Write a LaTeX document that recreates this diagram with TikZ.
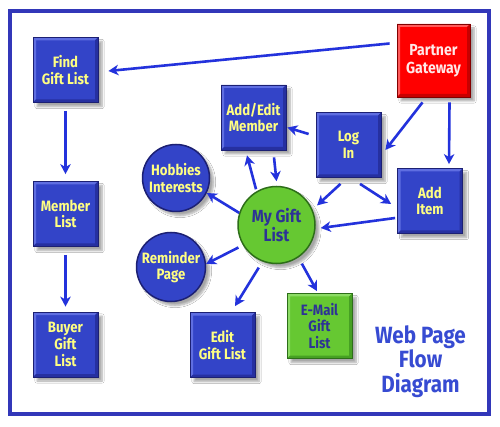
\documentclass[tikz,border=0pt]{standalone}
\usepackage{fontspec}
\setmainfont{Fira Sans}[FakeStretch=0.88]
\usetikzlibrary{shadows.blur,arrows.meta}
\definecolor{boxblue}{RGB}{51,68,200}
\definecolor{boxdark}{RGB}{28,32,115}
\definecolor{boxlight}{RGB}{95,110,225}
\definecolor{boxshade}{RGB}{38,48,160}
\definecolor{txtyellow}{RGB}{255,255,130}
\definecolor{arrblue}{RGB}{35,50,220}
\definecolor{gfill}{RGB}{102,200,50}
\definecolor{glight}{RGB}{140,220,100}
\definecolor{gshade}{RGB}{70,160,35}
\definecolor{gdark}{RGB}{45,110,25}
\definecolor{pgred}{RGB}{255,0,0}
\definecolor{rlight}{RGB}{255,90,90}
\definecolor{rshade}{RGB}{200,0,0}
\definecolor{rdark}{RGB}{130,0,0}
\definecolor{pgtext}{RGB}{255,232,232}
\definecolor{navytext}{RGB}{45,50,150}
\definecolor{framec}{RGB}{50,55,185}
\definecolor{titleblue}{RGB}{55,75,210}
\tikzset{
  shad/.style={blur shadow={shadow xshift=4pt,shadow yshift=-4pt,shadow blur steps=6,shadow opacity=35}},
  lbl/.style={font=\fontsize{15}{16.7}\selectfont\bfseries, align=center, inner sep=0pt},
  bevel/.style 2 args={path picture={
    \fill[#1] (path picture bounding box.south west) -- (path picture bounding box.north west) -- (path picture bounding box.north east)
      -- ([xshift=-3pt,yshift=-3pt]path picture bounding box.north east) -- ([xshift=3pt,yshift=-3pt]path picture bounding box.north west)
      -- ([xshift=3pt,yshift=3pt]path picture bounding box.south west) -- cycle;
    \fill[#2] (path picture bounding box.south west) -- (path picture bounding box.south east) -- (path picture bounding box.north east)
      -- ([xshift=-3pt,yshift=-3pt]path picture bounding box.north east) -- ([xshift=-3pt,yshift=3pt]path picture bounding box.south east)
      -- ([xshift=3pt,yshift=3pt]path picture bounding box.south west) -- cycle;
  }},
  bluebox/.style={lbl, shad, fill=boxblue, draw=boxdark, line width=0.8pt, text=txtyellow,
    minimum width=65pt, minimum height=65pt, bevel={boxlight}{boxshade}},
  greenbox/.style={lbl, shad, fill=gfill, draw=gdark, line width=0.8pt, text=navytext,
    minimum width=65pt, minimum height=65pt, bevel={glight}{gshade}},
  redbox/.style={lbl, shad, fill=pgred, draw=rdark, line width=0.8pt, text=pgtext,
    minimum width=73pt, minimum height=73pt, bevel={rlight}{rshade},
    font=\fontsize{16}{17.5}\selectfont\bfseries},
  bluecirc/.style={lbl, shad, circle, fill=boxblue, draw=boxdark, line width=1.5pt, text=txtyellow},
  greencirc/.style={lbl, shad, circle, fill=gfill, draw=gdark, line width=1.5pt, text=navytext,
    font=\fontsize{17.5}{19.5}\selectfont\bfseries},
  arr/.style={draw=arrblue, line width=2.6pt, -{Stealth[length=10pt,width=10.5pt,inset=3pt]}},
  titlefont/.style={font=\fontsize{23.5}{24.5}\selectfont\bfseries, align=center, inner sep=0pt}
}
\begin{document}
\begin{tikzpicture}[x=1pt,y=-1pt]
\useasboundingbox (0,0) rectangle (500,427);
\fill[white] (0,0) rectangle (500,427);
% frame
\draw[framec, line width=4pt] (10,11.5) rectangle (489,414);

% nodes
\node[bluebox] (FGL) at (65.5,70) {Find\\Gift List};
\node[bluebox] (ML) at (65.5,214) {Member\\List};
\node[bluebox] (BGL) at (65.5,344.5) {Buyer\\Gift\\List};
\node[redbox] (PG) at (433.5,60.5) {Partner\\Gateway};
\node[bluebox] (AEM) at (253.5,117.5) {Add/Edit\\Member};
\node[bluebox] (LI) at (348.5,145) {Log\\In};
\node[bluebox] (AI) at (430,201) {Add\\Item};
\node[greencirc, minimum size=77pt] (MGL) at (276.5,225) {My Gift\\List};
\node[bluecirc, minimum size=67pt] (HI) at (176,178) {Hobbies\\Interests};
\node[bluecirc, minimum size=69pt] (RP) at (171,267) {Reminder\\Page};
\node[bluebox] (EGL) at (222.5,345) {Edit\\Gift List};
\node[greenbox] (EM) at (319.5,326) {E-Mail\\Gift\\List};

% title
\node[titlefont, text=titleblue] (title) at (420.5,361.5) {Web Page\\Flow\\Diagram};

% connectors
\draw[arr] ([xshift=-7pt,yshift=17pt]PG.west) -- ([xshift=10pt,yshift=-1pt]FGL.east);
\draw[arr] ([yshift=-8pt]FGL.south) -- ([yshift=7pt]ML.north);
\draw[arr] ([yshift=-8pt]ML.south) -- ([yshift=5pt]BGL.north);
\draw[arr] ([xshift=-11pt,yshift=-5pt]PG.south) -- ([xshift=4pt,yshift=-5pt]LI.east);
\draw[arr] ([xshift=16pt,yshift=-5pt]PG.south) -- ([xshift=19pt,yshift=4pt]AI.north);
\draw[arr] ([xshift=-7pt,yshift=11pt]LI.west) -- ([xshift=1pt,yshift=-10pt]AEM.east);
\draw[arr] ([xshift=-8pt,yshift=-6pt]LI.south) -- ([xshift=5pt,yshift=3pt]MGL.25);
\draw[arr] ([xshift=11.5pt,yshift=-6pt]LI.south) -- ([xshift=-6pt,yshift=-3pt]AI.west);
\draw[arr] ([xshift=-2pt,yshift=-17pt]AI.west) -- ([xshift=5pt,yshift=-3pt]MGL.east);
\draw[arr] ([xshift=-20.5pt,yshift=-3.5pt]MGL.north) -- ([xshift=-6.5pt,yshift=-5pt]AEM.south);
\draw[arr] ([xshift=20.5pt,yshift=-7pt]AEM.south) -- ([yshift=4.5pt]MGL.north);
\draw[arr] (MGL.162) -- (HI.-26);
\draw[arr, shorten <=5pt] (MGL.211) -- (RP.5);
\draw[arr, shorten <=7pt] (MGL.249) -- ([xshift=12.5pt,yshift=6pt]EGL.north);
\draw[arr, shorten <=7pt] (MGL.-56) -- ([xshift=-2.5pt,yshift=2pt]EM.north);
\end{tikzpicture}
\end{document}
